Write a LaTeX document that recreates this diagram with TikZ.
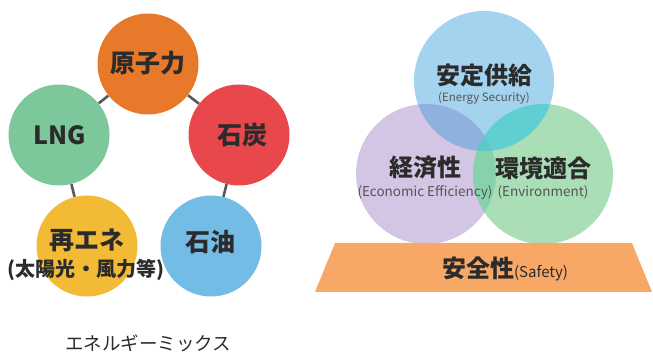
\documentclass[tikz,border=0pt]{standalone}
\usepackage{fontspec}
\setmainfont{Noto Sans CJK JP}
\usetikzlibrary{
  positioning,  % below=of ...
  backgrounds,  % layer for the ring line
}
\definecolor{inkdark}{HTML}{2B2B2B}
\definecolor{inkgray}{HTML}{555555}
\definecolor{linkgray}{HTML}{5A5A5A}
\definecolor{mixorange}{HTML}{E8792A}
\definecolor{mixred}{HTML}{E8474C}
\definecolor{mixgreen}{HTML}{7DC89A}
\definecolor{mixyellow}{HTML}{F3BB35}
\definecolor{mixblue}{HTML}{72BCE6}
\definecolor{vennblue}{HTML}{A4D3EF}
\definecolor{vennpurple}{HTML}{D3C5E4}
\definecolor{venngreen}{HTML}{AADEB6}
\definecolor{vennbp}{HTML}{8FB1DD}
\definecolor{vennbg}{HTML}{5FCFD1}
\definecolor{vennpg}{HTML}{86D2AB}
\definecolor{venntri}{HTML}{5CC8C8}
\definecolor{baseorange}{HTML}{F7A766}
\def\vennr{70pt}
\tikzset{
  x=1pt,
  y=-1pt,
  mix ball/.style={
    circle,
    minimum size=101pt,
    inner sep=0pt
  },
  mix label/.style={
    font=\bfseries\fontsize{25}{28}\selectfont,
    text=inkdark
  },
  mix sub/.style={
    font=\bfseries\fontsize{20}{22}\selectfont,
    text=inkdark,
    inner sep=0pt
  },
  mix link/.style={
    draw=linkgray,
    line width=2.6pt
  },
  venn title/.style={
    font=\bfseries\fontsize{24}{27}\selectfont,
    text=inkdark
  },
  venn sub/.style={
    font=\fontsize{13.5}{15}\selectfont,
    text=inkgray,
    inner sep=2pt
  },
  caption/.style={
    font=\fontsize{18.5}{20}\selectfont,
    text=inkdark
  }
}

\begin{document}
\begin{tikzpicture}
\useasboundingbox (0,0) rectangle (653,352);
% energy mix ring
\node[mix ball,fill=mixorange] (genshi) at (148,64)  {};
\begin{scope}
  \clip (0,0) rectangle (290,352);
  \node[mix ball,fill=mixred]  (sekitan) at (239,135) {};
\end{scope}
\node[mix ball,fill=mixgreen]  (lng)    at (59,135)  {};
\node[mix ball,fill=mixyellow] (saiene) at (87,246)  {};
\node[mix ball,fill=mixblue]   (sekiyu) at (211,246) {};
\begin{scope}[on background layer]
  \path[mix link] (sekiyu) -- (sekitan)
                  (sekitan) -- (genshi)
                  (genshi) -- (lng)
                  (lng) -- (saiene);
\end{scope}
\node[mix label] (genshitxt)  at (148,63)   {原子力};
\node[mix label] (sekitantxt) at (242,135)  {石炭};
\node[mix label] (lngtxt)     at (60,135)   {LNG};
\node[mix label] (sekiyutxt)  at (210,242)  {石油};
\node[mix label] (saienetxt)  at (87,240)   {再エネ};
\node[mix sub]   (saienesub)  at (86,270)   {(太陽光・風力等)};
\node[caption]   (mixcap)     at (148,343)  {エネルギーミックス};
% 3E+S venn
\node[circle,minimum size=140pt,inner sep=0pt,fill=vennblue]   (security) at (484,81)  {};
\node[circle,minimum size=140pt,inner sep=0pt,fill=vennpurple] (economy)  at (426,174) {};
\node[circle,minimum size=140pt,inner sep=0pt,fill=venngreen]  (environ)  at (543,174) {};
\begin{scope}
  \clip (economy.center) circle (\vennr);
  \fill[vennpg] (environ.center) circle (\vennr);
\end{scope}
\begin{scope}
  \clip (security.center) circle (\vennr);
  \fill[vennbp] (economy.center) circle (\vennr);
  \fill[vennbg] (environ.center) circle (\vennr);
  \clip (economy.center) circle (\vennr);
  \fill[venntri] (environ.center) circle (\vennr);
\end{scope}
\node[venn title] (securitytxt) at (484,75)  {安定供給};
\node[venn sub,font=\fontsize{11.5}{13}\selectfont]
                  (securitysub) [below=0pt of securitytxt] {(Energy Security)};
\node[venn title] (economytxt)  at (425,168) {経済性};
\node[venn sub]   (economysub)  [below=0pt of economytxt]  {(Economic Efficiency)};
\node[venn title] (environtxt)  at (543,168) {環境適合};
\node[venn sub]   (environsub)  [below=0pt of environtxt]  {(Environment)};
% safety base
\fill[baseorange] (335,243) -- (632,243) -- (652,292) -- (315,292) -- cycle;
\node[venn title] (safetytxt) at (505,269)
  {安全性{\mdseries\fontsize{15}{17}\selectfont(Safety)}};
\end{tikzpicture}
\end{document}
